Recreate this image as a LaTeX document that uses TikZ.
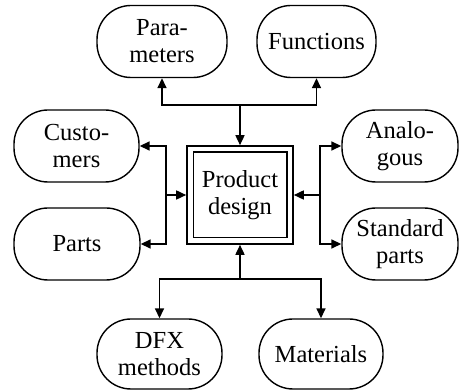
\documentclass[tikz,border=0pt]{standalone}
\usepackage{fontspec}
\setmainfont{Liberation Serif}
\usepackage{tikz}
\usetikzlibrary{arrows.meta,positioning,calc}

\begin{document}
\begin{tikzpicture}[
    x=1pt,y=1pt,
    every node/.style={font=\fontsize{24.5}{27}\selectfont,align=center,inner sep=0pt},
    pill/.style={draw,line width=1.4pt,rounded corners=34pt,minimum height=72pt},
    core/.style={draw,line width=1.6pt,minimum width=106pt,minimum height=98pt},
    link/.style={line width=1.6pt,-{Triangle[length=10pt,width=9pt]}},
]
\useasboundingbox (0,0) rectangle (459,391);
% Centre
\node[core] (pd) at (240,196) {Product\\design};
\draw[line width=1.4pt] ($(pd.south west)+(7,7)$) rectangle ($(pd.north east)+(-7,-7)$);
% Sources round the centre
\node[pill,minimum width=130pt] (par)  at (162,349.5) {Para-\\meters};
\node[pill,minimum width=119pt] (fun)  at (316.5,349.5) {Functions};
\node[pill,minimum width=125pt] (cus)  at (76.5,245) {Custo-\\mers};
\node[pill,minimum width=126pt] (prt)  at (77,147) {Parts};
\node[pill,minimum width=116pt] (ana)  at (400,245) {Analo-\\gous};
\node[pill,minimum width=116pt] (std)  at (400,147) {Standard\\parts};
\node[pill,minimum width=125pt,minimum height=70pt] (dfx) at (159.5,37) {DFX\\methods};
\node[pill,minimum width=124pt,minimum height=70pt] (mat) at (321,37) {Materials};
% Junctions
\coordinate (tj) at (240,286);
\coordinate (bj) at (240,112);
\coordinate (lj) at (166,196);
\coordinate (rj) at (320,196);
% Into the centre
\foreach \j/\side in {tj/north,bj/south,lj/west,rj/east} {
    \draw[link] (\j) -- (pd.\side);
}
% Out of the junctions
\foreach \j/\n/\side in {tj/par/south,tj/fun/south,bj/dfx/north,bj/mat/north} {
    \draw[link] (\j) -| (\n.\side);
}
\foreach \j/\n/\side in {lj/cus/east,lj/prt/east,rj/ana/west,rj/std/west} {
    \draw[link] (\j) |- (\n.\side);
}
\end{tikzpicture}
\end{document}
